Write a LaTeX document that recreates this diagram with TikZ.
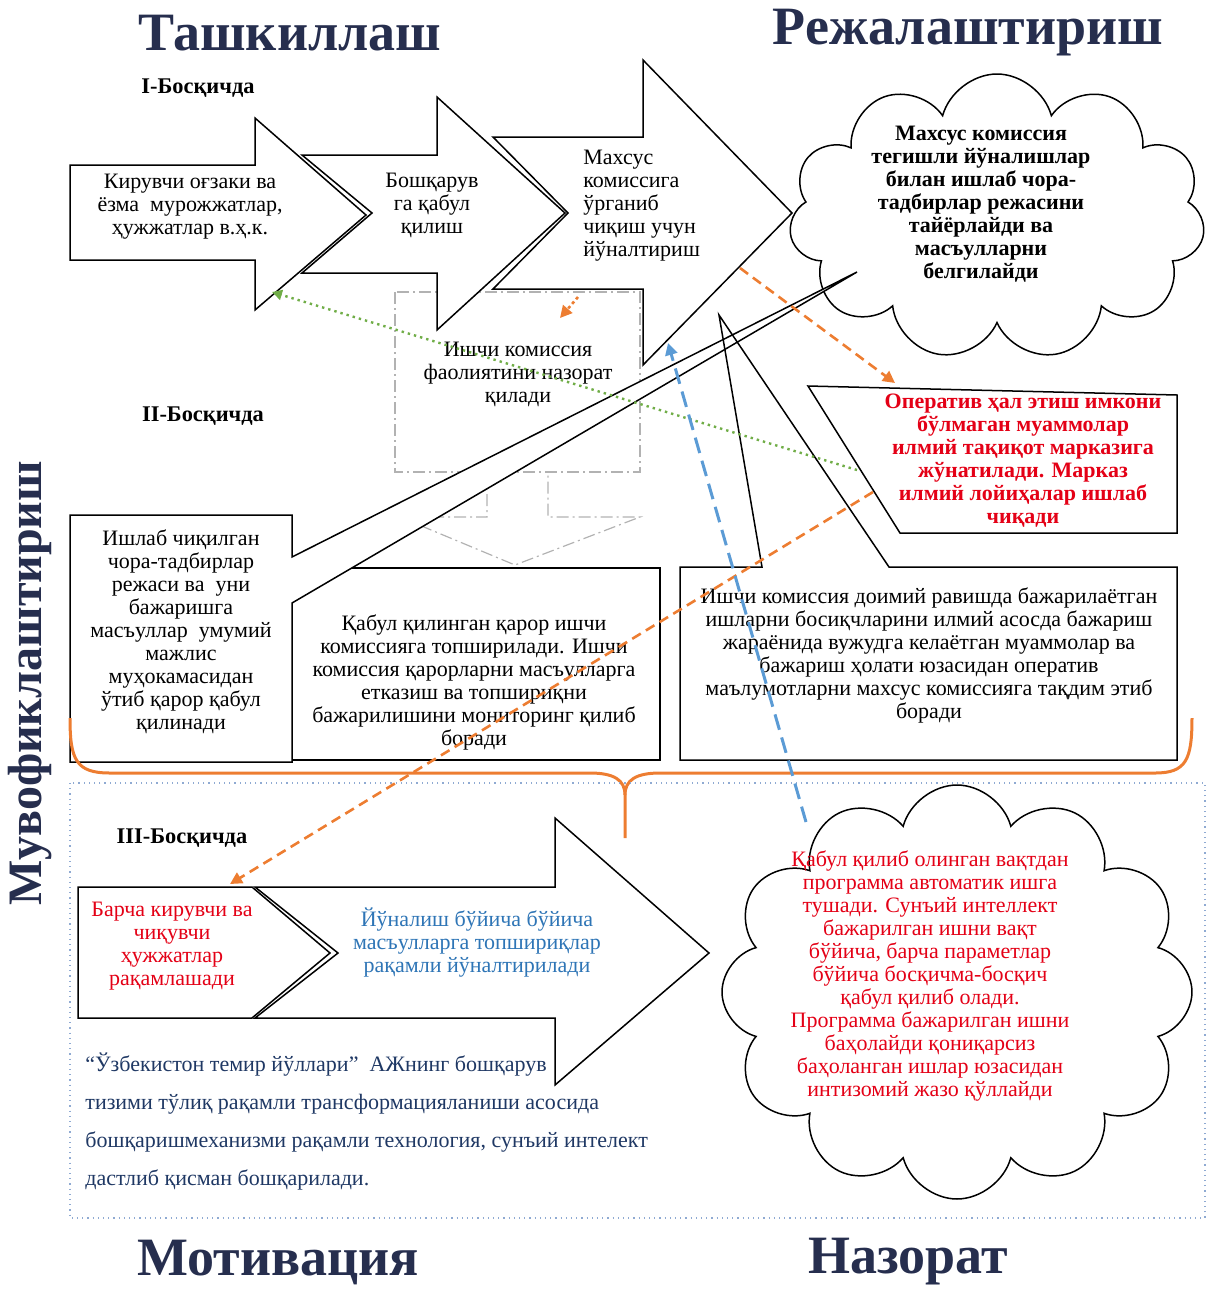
\documentclass[tikz,border=0pt]{standalone}
\usepackage{fontspec}
\setmainfont{Liberation Serif}
\usetikzlibrary{shapes.symbols,arrows.meta}

\definecolor{titleblue}{RGB}{38,46,78}
\definecolor{redtext}{RGB}{228,0,22}
\definecolor{bluetext}{RGB}{46,117,182}
\definecolor{navytext}{RGB}{31,56,100}
\definecolor{orangeline}{RGB}{237,125,49}
\definecolor{greenline}{RGB}{112,173,71}
\definecolor{blueline}{RGB}{91,155,213}
\definecolor{frameblue}{RGB}{143,170,210}

\tikzset{
  block/.style={draw=black,fill=white,line width=0.75pt},
  bodytext/.style={font=\fontsize{11}{11.5}\selectfont,align=center,inner sep=0pt},
  boldtext/.style={font=\fontsize{11}{11.5}\selectfont\bfseries,align=center,inner sep=0pt},
  stagelabel/.style={font=\fontsize{11.2}{12}\selectfont\bfseries,inner sep=0pt},
  bigtitle/.style={font=\fontsize{27}{27}\selectfont\bfseries,text=titleblue,inner sep=0pt},
  puffy/.style={cloud,cloud puffs=#1,cloud ignores aspect,draw=black,fill=white,line width=0.75pt},
  ghost/.style={draw=black!30,line width=0.6pt,dash pattern=on 6pt off 2pt on 1pt off 2pt},
  orangedash/.style={draw=orangeline,line width=1.3pt,dash pattern=on 5pt off 3pt,-{Triangle[length=6pt,width=6pt]}},
  orangedot/.style={draw=orangeline,line width=1.3pt,dash pattern=on 1.5pt off 1.5pt,-{Triangle[length=6pt,width=6pt]}},
  greendot/.style={draw=greenline,line width=1.2pt,dash pattern=on 1.2pt off 2pt,-{Triangle[length=5pt,width=5pt]}},
  bluedash/.style={draw=blueline,line width=1.5pt,dash pattern=on 8pt off 4pt,-{Triangle[length=6pt,width=6pt]}},
  brace/.style={draw=orangeline,line width=1.5pt},
  frame/.style={draw=frameblue,line width=0.6pt,dotted}
}

\begin{document}
\begin{tikzpicture}[x=0.5pt,y=-0.5pt]
\useasboundingbox (0,0) rectangle (1229,1298);

\node[bigtitle] (orgTitle) at (290,33) {Ташкиллаш};
\node[bigtitle] (planTitle) at (968,33) {Режалаштириш};
\node[bigtitle] (motivTitle) at (278,1262) {Мотивация};
\node[bigtitle] (ctrlTitle) at (908,1262) {Назорат};
\node[bigtitle,font=\fontsize{24}{24}\selectfont\bfseries,rotate=90] (coordTitle) at (30,683) {Мувофиклаштириш};

\node[stagelabel] (stage1) at (198,88) {I-Босқичда};
\node[stagelabel] (stage2) at (203,416) {II-Босқичда};
\node[stagelabel] (stage3) at (182,838) {III-Босқичда};

% faint callout behind stage II
\draw[ghost] (395,292) rectangle (640,472);
\draw[ghost] (487,472) -- (487,517) -- (400,517) -- (515,565) -- (640,517) -- (548,517) -- (548,472);
\node[bodytext] (watchText) at (518,374) {Ишчи комиссия\\фаолиятини назорат\\қилади};

% stage I arrows
\draw[block] (302,155) -- (437,155) -- (437,97) -- (565,213) -- (437,330) -- (437,273) -- (302,273) -- (372,213) -- cycle;
\draw[block] (70,165) -- (255,165) -- (255,118) -- (366,215) -- (255,310) -- (255,260) -- (70,260) -- cycle;
\draw[block] (493,137) -- (643,137) -- (643,60) -- (792,213) -- (643,365) -- (643,289) -- (493,289) -- (568,213) -- cycle;
\node[bodytext] (inText) at (190,207) {Кирувчи оғзаки ва\\ёзма\ \ мурожжатлар,\\ҳужжатлар в.ҳ.к.};
\node[bodytext] (acceptText) at (432,205) {Бошқарув\\га қабул\\қилиш};
\node[bodytext,align=left,anchor=west] (studyText) at (583,206) {Махсус\\комиссига\\ўрганиб\\чиқиш учун\\йўналтириш};

\node[puffy=11,minimum width=208pt,minimum height=143pt] (planCloud) at (997,217) {};
\node[boldtext] (planText) at (981,204) {Махсус комиссия\\тегишли йўналишлар\\билан ишлаб чора-\\тадбирлар режасини\\тайёрлайди ва\\масъулларни\\белгилайди};

% stage II boxes
\draw[block] (292,568) rectangle (660,760);
\draw[block] (70,515) -- (292,515) -- (292,557) -- (857,272) -- (292,603) -- (292,762) -- (70,762) -- cycle;
\fill[white] (680,567) rectangle (1177,760);
\draw[block,fill=none] (680,567) -- (762,567) -- (719,315) -- (889,567) -- (1177,567) -- (1177,760) -- (680,760) -- cycle;
\draw[block] (808,386) -- (1177,395) -- (1177,533) -- (900,533) -- cycle;

\node[bodytext] (planBoxText) at (181,632) {Ишлаб чиқилган\\чора-тадбирлар\\режаси ва\ \ уни\\бажаришга\\масъуллар\ \ умумий\\мажлис\\муҳокамасидан\\ўтиб қарор қабул\\қилинади};
\node[bodytext] (decisionText) at (474,682) {Қабул қилинган қарор ишчи\\комиссияга топширилади. Ишчи\\комиссия қарорларни масъулларга\\етказиш ва топшириқни\\бажарилишини мониторинг қилиб\\боради};
\node[bodytext] (reportText) at (929,655) {Ишчи комиссия доимий равишда бажарилаётган\\ишларни босиқчларини илмий асосда бажариш\\жараёнида вужудга келаётган муаммолар ва\\бажариш ҳолати юзасидан оператив\\маълумотларни махсус комиссияга тақдим этиб\\боради};
\node[boldtext,text=redtext] (researchText) at (1023,461) {Оператив ҳал этиш имкони\\бўлмаган муаммолар\\илмий тақиқот марказига\\жўнатилади. Марказ\\илмий лойиҳалар ишлаб\\чиқади};

\draw[brace] (70,718) .. controls (70,760) and (76,773) .. (110,773) -- (590,773) .. controls (614,773) and (625,780) .. (625,795) -- (625,838);
\draw[brace] (625,795) .. controls (625,780) and (636,773) .. (660,773) -- (1155,773) .. controls (1186,773) and (1192,760) .. (1192,718);

% stage III
\draw[frame] (70,783) rectangle (1205,1218);
\draw[block] (255,887) -- (555,887) -- (555,818) -- (709,953) -- (555,1085) -- (555,1018) -- (255,1018) -- (338,953) -- cycle;
\draw[block] (78,887) -- (252,887) -- (330,953) -- (252,1018) -- (78,1018) -- cycle;
\node[bodytext,text=redtext] (digitText) at (172,946) {Барча кирувчи ва\\чиқувчи\\ҳужжатлар\\рақамлашади};
\node[bodytext,text=bluetext] (routeText) at (477,943) {Йўналиш бўйича бўйича\\масъулларга топшириқлар\\рақамли йўналтирилади};
\node[font=\fontsize{11}{19}\selectfont,text=navytext,align=left,anchor=north west,inner sep=0pt] (railText) at (85,1052) {“Ўзбекистон темир йўллари”\ \ АЖнинг бошқарув\\тизими тўлиқ рақамли трансформацияланиши асосида\\бошқаришмеханизми рақамли технология, сунъий интелект\\дастлиб қисман бошқарилади.};

\node[puffy=12,minimum width=235pt,minimum height=207pt] (aiCloud) at (957,992) {};
\node[bodytext,text=redtext] (aiText) at (930,976) {Қабул қилиб олинган вақтдан\\программа автоматик ишга\\тушади. Сунъий интеллект\\бажарилган ишни вақт\\бўйича, барча параметлар\\бўйича босқичма-босқич\\қабул қилиб олади.\\Программа бажарилган ишни\\баҳолайди қониқарсиз\\баҳоланган ишлар юзасидан\\интизомий жазо қўллайди};

% links
\coordinate (smallFrom) at (578,297);
\coordinate (smallTo) at (560,318);
\coordinate (greenFrom) at (857,470);
\coordinate (greenTo) at (272,292);
\coordinate (orangeFrom) at (740,268);
\coordinate (orangeTo) at (895,383);
\coordinate (downFrom) at (873,492);
\coordinate (downTo) at (230,884);
\coordinate (blueFrom) at (806,822);
\coordinate (blueTo) at (668,343);
\draw[orangedot] (smallFrom) -- (smallTo);
\draw[greendot] (greenFrom) -- (greenTo);
\draw[orangedash] (orangeFrom) -- (orangeTo);
\draw[orangedash] (downFrom) -- (downTo);
\draw[bluedash] (blueFrom) -- (blueTo);
\end{tikzpicture}
\end{document}
